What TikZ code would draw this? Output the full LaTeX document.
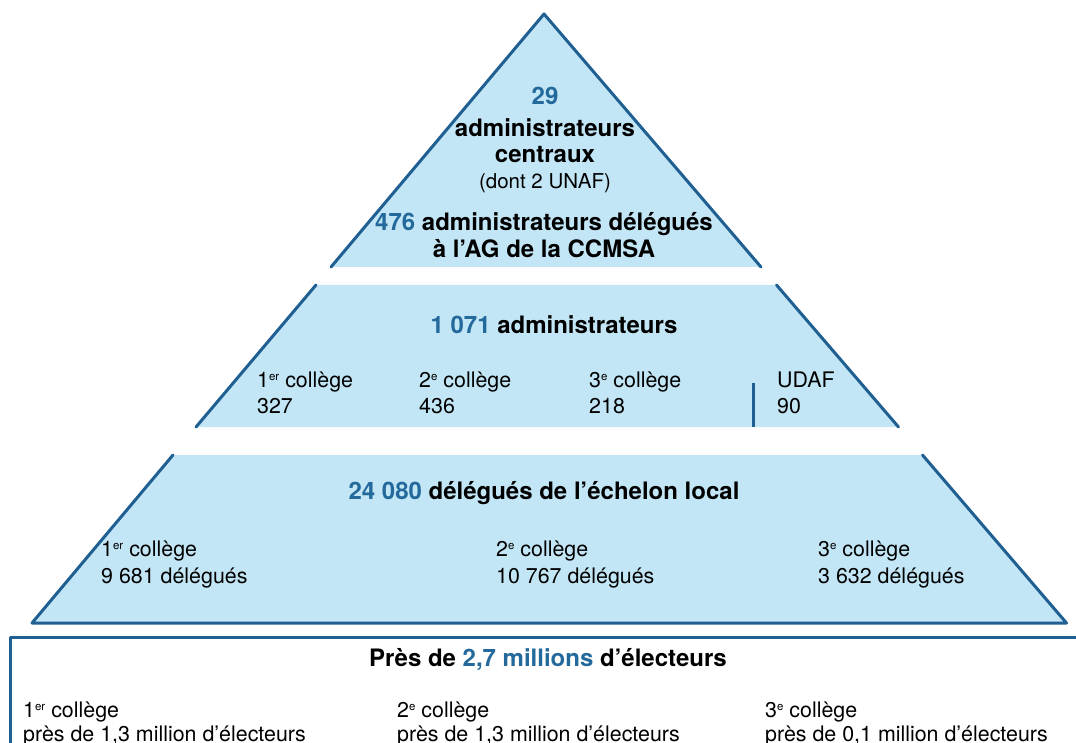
\documentclass[tikz,border=0pt]{standalone}
\usepackage{fontspec}
\setmainfont{TeX Gyre Heros}
\definecolor{pyrline}{HTML}{1F5F91}
\definecolor{pyrfill}{HTML}{C2E6F5}
\definecolor{pyrnum}{HTML}{23699C}
\newcommand{\nb}[1]{\textcolor{pyrnum}{#1}}
\newcommand{\sups}[1]{\raisebox{7pt}{\fontsize{11.5}{11.5}\selectfont #1}}
\tikzset{
    edge/.style={draw=pyrline, line width=3pt, line cap=round, line join=round},
    bold/.style={font=\fontsize{24}{28}\selectfont\bfseries, anchor=base, inner sep=0pt},
    plain/.style={font=\fontsize{21.4}{26}\selectfont, anchor=base west, inner sep=0pt, align=left},
}
\begin{document}
\begin{tikzpicture}[x=1pt, y=-1pt]
        \useasboundingbox (0,0) rectangle (1076,743);
        \clip (0,0) rectangle (1076,743);
        % pyramid corners
        \coordinate (T) at (544,14);
        \coordinate (A1) at (331,267);   \coordinate (B1) at (761,267);
        \coordinate (A2) at (316,285);   \coordinate (B2) at (776.5,285);
        \coordinate (C2) at (196,427);   \coordinate (D2) at (898.5,427);
        \coordinate (A3) at (173,455);   \coordinate (B3) at (922.5,455);
        \coordinate (C3) at (32,623);    \coordinate (D3) at (1066.5,623);
        \fill[pyrfill] (T)--(B1)--(A1)--cycle;
        \fill[pyrfill] (A2)--(B2)--(D2)--(C2)--cycle;
        \fill[pyrfill] (A3)--(B3)--(D3)--(C3)--cycle;
        \draw[edge] (A1)--(T)--(B1);
        \draw[edge] (A2)--(C2); \draw[edge] (B2)--(D2);
        \draw[edge] (A3)--(C3)--(D3)--(B3);
        \coordinate (U1) at (753,383); \coordinate (U2) at (753,427);
        \draw[edge, line cap=butt] (U1)--(U2);
        % electeurs box
        \draw[edge] (10,637) rectangle (1085,770);
        % top
        \node[bold] (n29) at (545,105) {\nb{29}};
        \node[bold] (adm) at (545,137) {administrateurs};
        \node[bold] (cen) at (545,163) {centraux};
        \node[font=\fontsize{20.5}{26}\selectfont, anchor=base, inner sep=0pt] (unaf) at (545,189) {(dont 2 UNAF)};
        \node[bold] (ag1) at (544,231) {\nb{476} administrateurs délégués};
        \node[bold] (ag2) at (544,258) {à l’AG de la CCMSA};
        % middle
        \node[bold] (mid) at (554,334) {\nb{1 071} administrateurs};
        \foreach \n/\x/\c/\v in {m1/257/1\sups{er} collège/327, m2/419/2\sups{e} collège/436,
                                 m3/589/3\sups{e} collège/218, m4/777/UDAF/90}
            \node[plain] (\n) at (\x,413) {\c\\\v};
        % bottom
        \node[bold] (loc) at (544,499) {\nb{24 080} délégués de l’échelon local};
        \foreach \n/\x/\c/\v in {b1/101/1\sups{er}/9 681, b2/496/2\sups{e}/10 767, b3/818/3\sups{e}/3 632}
            \node[plain] (\n) at (\x,583) {\c{} collège\\[1pt]\v{} délégués};
        % electeurs
        \node[bold] (ele) at (548,666) {Près de \nb{2,7 millions} d’électeurs};
        \foreach \n/\x/\c/\v in {e1/23/1\sups{er}/{1,3}, e2/397/2\sups{e}/{1,3}, e3/765/3\sups{e}/{0,1}}
            \node[plain] (\n) at (\x,741) {\c{} collège\\[-2pt]près de \v{} million d’électeurs};
    \end{tikzpicture}
\end{document}
